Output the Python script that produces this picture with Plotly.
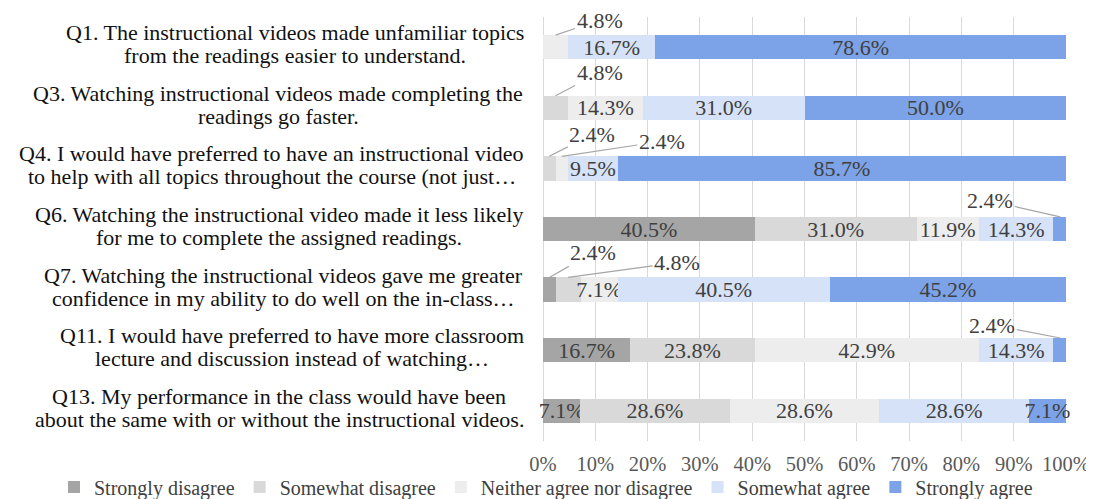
import plotly.graph_objects as go

questions = [
    "Q1. The instructional videos made unfamiliar topics<br>from the readings easier to understand.",
    "Q3. Watching instructional videos made completing the<br>readings go faster.",
    "Q4. I would have preferred to have an instructional video<br>to help with all topics throughout the course (not just…",
    "Q6. Watching the instructional video made it less likely<br>for me to complete the assigned readings.",
    "Q7. Watching the instructional videos gave me greater<br>confidence in my ability to do well on the in-class…",
    "Q11. I would have preferred to have more classroom<br>lecture and discussion instead of watching…",
    "Q13. My performance in the class would have been<br>about the same with or without the instructional videos.",
]
series_names = ["Strongly disagree", "Somewhat disagree", "Neither agree nor disagree",
                "Somewhat agree", "Strongly agree"]
strongly_disagree = [0, 0, 0, 40.5, 2.4, 16.7, 7.1]
somewhat_disagree = [0, 4.8, 2.4, 31.0, 4.8, 23.8, 28.6]
neither = [4.8, 14.3, 2.4, 11.9, 7.1, 42.9, 28.6]
somewhat_agree = [16.7, 31.0, 9.5, 14.3, 40.5, 14.3, 28.6]
strongly_agree = [78.6, 50.0, 85.7, 2.4, 45.2, 2.4, 7.1]
x_ticks = [0, 10, 20, 30, 40, 50, 60, 70, 80, 90, 100]

series_values = [strongly_disagree, somewhat_disagree, neither, somewhat_agree, strongly_agree]
colors = ["#a5a5a5", "#d9d9d9", "#ededed", "#d6e2f7", "#7ca2e7"]

# callouts for small segments: (question index, series index, ax px, ay px)
callouts = [(0, 2, 44, -15), (1, 1, 44, -23), (2, 1, 43, -22), (2, 2, 100, -15),
            (3, 4, -70, -16), (4, 0, 44, -25), (4, 1, 109, -15), (5, 4, -68, -13)]

FONT = "Liberation Serif"
LABEL_SIZE = 22
BAR_W = 0.4
ypos = list(range(len(questions)))

# Times/Liberation Serif advance widths (1/1000 em) to centre wrapped label lines
_W = {' ': 250, '.': 250, ',': 250, '(': 333, ')': 333, '…': 1000, '-': 333, "'": 180}
_W.update({c: 500 for c in '0123456789'})
_W.update(dict(zip('abcdefghijklmnopqrstuvwxyz',
                   [444, 500, 444, 500, 444, 333, 500, 500, 278, 278, 500, 278, 778,
                    500, 500, 500, 500, 333, 389, 278, 500, 500, 722, 500, 500, 444])))
_W.update(dict(zip('ABCDEFGHIJKLMNOPQRSTUVWXYZ',
                   [722, 667, 667, 722, 611, 556, 722, 722, 333, 389, 722, 611, 889,
                    722, 722, 556, 722, 667, 556, 611, 722, 722, 944, 722, 722, 611])))


def text_width(s, size):
    return sum(_W.get(c, 500) for c in s) * size / 1000.0


fig = go.Figure()
for name, vals, col in zip(series_names, series_values, colors):
    fig.add_trace(go.Bar(
        y=ypos, x=vals, name=name, orientation="h",
        marker=dict(color=col, line=dict(width=0)),
        width=BAR_W,
        text=[f"{v:.1f}%" if v >= 7 else "" for v in vals],
        textposition="inside", insidetextanchor="middle", textangle=0,
        constraintext="none", cliponaxis=False,
        textfont=dict(family=FONT, size=22, color="#404040"),
        hoverinfo="skip",
    ))

annotations = []
LABEL_GAP = 19
for i, q in enumerate(questions):
    lines = q.split("<br>")
    maxw = max(text_width(s, LABEL_SIZE) for s in lines)
    shifts = [14.5, -8.5]
    for line, ys in zip(lines, shifts):
        annotations.append(dict(
            x=0, xref="paper", y=i, yref="y", text=line, showarrow=False,
            xanchor="center", yanchor="middle", align="center",
            xshift=-(LABEL_GAP + maxw / 2), yshift=ys,
            font=dict(family=FONT, size=LABEL_SIZE, color="#111111"),
        ))

for qi, si, ax, ay in callouts:
    start = sum(series_values[k][qi] for k in range(si))
    v = series_values[si][qi]
    annotations.append(dict(
        x=start + v / 2, xref="x", y=qi - BAR_W / 2, yref="y",
        text=f"{v:.1f}%", showarrow=True, arrowhead=0, arrowwidth=1.2,
        arrowcolor="#a6a6a6", ax=ax, ay=ay, standoff=0, startstandoff=0,
        font=dict(family=FONT, size=22, color="#404040"),
    ))

fig.update_layout(
    width=1086, height=491,
    barmode="stack", barnorm="percent",
    margin=dict(l=535, r=28, t=9, b=58, autoexpand=False),
    paper_bgcolor="white", plot_bgcolor="white",
    font=dict(family=FONT),
    xaxis=dict(range=[0, 100], tickvals=x_ticks, ticktext=[f"{t}%" for t in x_ticks],
               showgrid=True, gridcolor="#d9d9d9", gridwidth=1,
               zeroline=True, zerolinecolor="#d9d9d9", zerolinewidth=1,
               showline=False, ticks="", ticklabelstandoff=8,
               tickfont=dict(family=FONT, size=20.5, color="#595959")),
    yaxis=dict(range=[len(questions) - 0.5, -0.5], showticklabels=False,
               showgrid=False, zeroline=False, showline=False, ticks=""),
    showlegend=True,
    legend=dict(orientation="h", xref="paper", yref="paper",
                x=-0.935, xanchor="left", y=-0.1085, yanchor="middle",
                bgcolor="rgba(0,0,0,0)",
                font=dict(family=FONT, size=20, color="#404040"),
                itemwidth=30, traceorder="normal", tracegroupgap=0),
    annotations=annotations,
)

fig.write_html("out.html")
